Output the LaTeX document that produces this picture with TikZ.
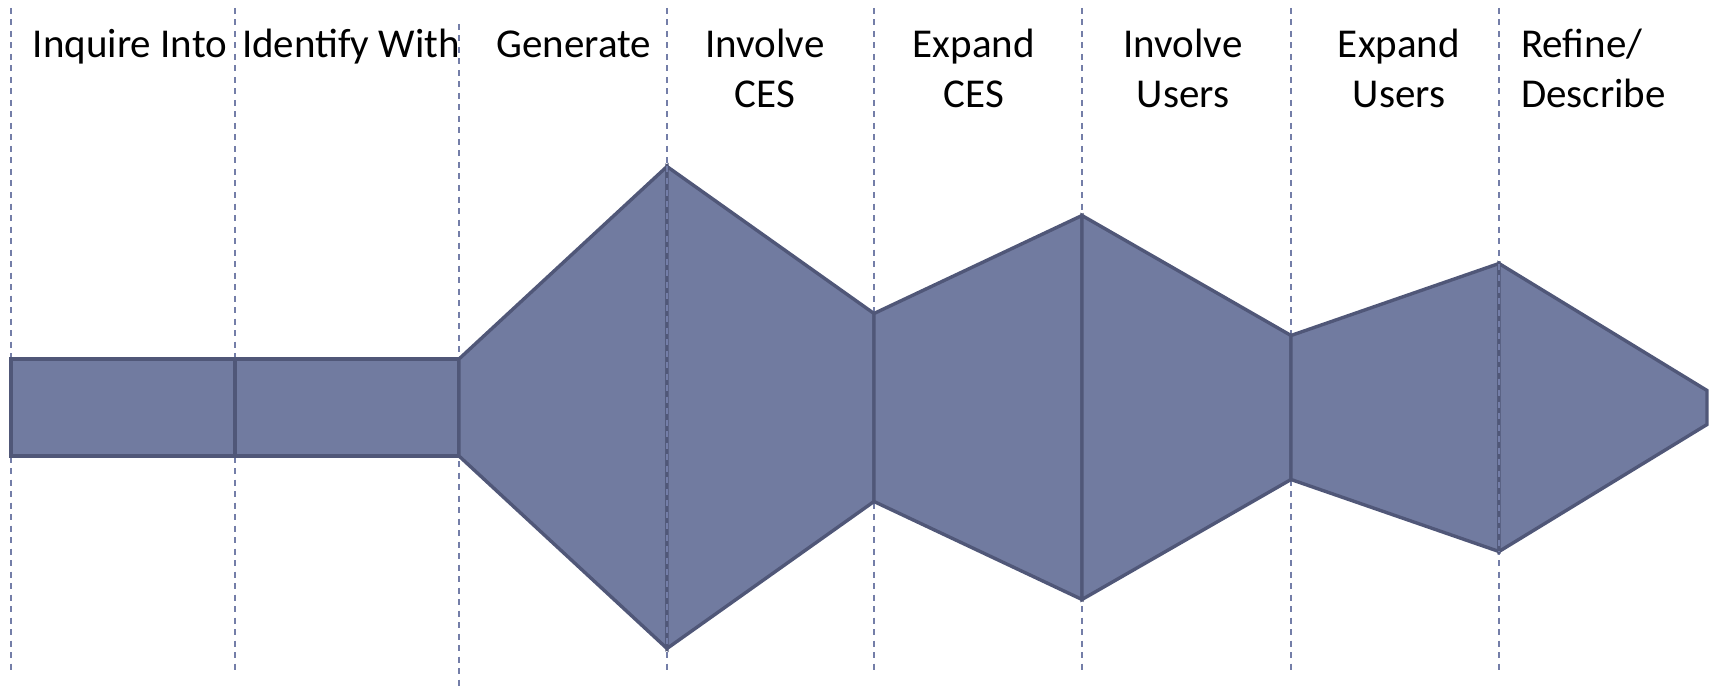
\documentclass[tikz,border=0pt]{standalone}
\usepackage{fontspec}
\setmainfont{Carlito}
\definecolor{segfill}{RGB}{113,123,160}
\definecolor{segline}{RGB}{80,87,120}
\definecolor{guidecol}{RGB}{116,126,168}
\begin{document}
\begin{tikzpicture}[x=1pt,y=-1pt,
  seg/.style={fill=segfill, draw=segline, line width=3.4pt, line join=miter},
  guide/.style={draw=guidecol, line width=1.5pt, dash pattern=on 6pt off 5.5pt},
  lbl/.style={font=\fontsize{41}{50.5}\selectfont, inner sep=0pt, align=center, anchor=base}]
\useasboundingbox (0,0) rectangle (1714,690);
% guides
\foreach \gx in {10.9,235,667,874,1082,1291,1499}{
  \draw[guide] (\gx,8) -- (\gx,673);
}
\draw[guide] (459,24) -- (459,690);
% vertices
\coordinate (a1) at (10.9,359);  \coordinate (b1) at (10.9,456);
\coordinate (a2) at (235,359);   \coordinate (b2) at (235,456);
\coordinate (a3) at (459,359);   \coordinate (b3) at (459,456);
\coordinate (a4) at (667,166.5); \coordinate (b4) at (667,648.5);
\coordinate (a5) at (874,313.5); \coordinate (b5) at (874,501.5);
\coordinate (a6) at (1082,215.5);\coordinate (b6) at (1082,599.5);
\coordinate (a7) at (1291,335.5);\coordinate (b7) at (1291,479.5);
\coordinate (a8) at (1499,263.5);\coordinate (b8) at (1499,551.5);
\coordinate (a9) at (1707,390.5);\coordinate (b9) at (1707,424.5);
% segments
\draw[seg] (a1) -- (a2) -- (b2) -- (b1) -- cycle;
\draw[seg] (a2) -- (a3) -- (b3) -- (b2) -- cycle;
\draw[seg] (a3) -- (a4) -- (b4) -- (b3) -- cycle;
\draw[seg] (a4) -- (a5) -- (b5) -- (b4) -- cycle;
\draw[seg] (a5) -- (a6) -- (b6) -- (b5) -- cycle;
\draw[seg] (a6) -- (a7) -- (b7) -- (b6) -- cycle;
\draw[seg] (a7) -- (a8) -- (b8) -- (b7) -- cycle;
\draw[seg] (a8) -- (a9) -- (b9) -- (b8) -- cycle;
% guides over shape
\draw[guide] (a4) -- (b4);
\draw[guide] (a8) -- (b8);
% labels
\node[lbl] (l1) at (130,57.5) {Inquire Into};
\node[lbl] (l2) at (351,57.5) {Identify With};
\node[lbl] (l3) at (574,57.5) {Generate};
\node[lbl] (l4) at (765,108) {Involve\\CES};
\node[lbl] (l5) at (974,108) {Expand\\CES};
\node[lbl] (l6) at (1183,108) {Involve\\Users};
\node[lbl] (l7) at (1399,108) {Expand\\Users};
\node[lbl, align=left, anchor=base west] (l8) at (1521,108) {Refine/\\Describe};
\end{tikzpicture}
\end{document}
